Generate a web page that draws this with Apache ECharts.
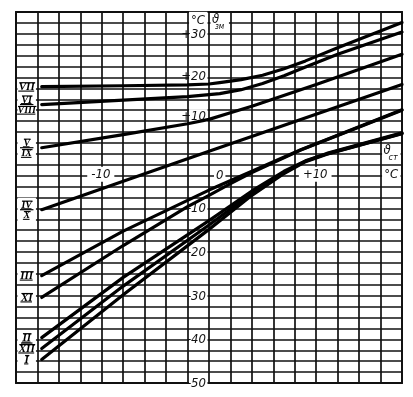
<!DOCTYPE html>
<html><head><meta charset="utf-8">
<script src="https://cdn.jsdelivr.net/npm/echarts@6/dist/echarts.min.js"></script>
<style>html,body{margin:0;padding:0;background:#fff}#c{width:413px;height:397px}</style>
</head><body><div id="c"></div>
<script>
// axis ranges
const X_MIN = -18, X_MAX = 18, X_STEP = 2;
const Y_MIN = -50, Y_MAX = 35, Y_STEP = 2.5;

// tick labels
const yTickValues = [30, 20, 10, -10, -20, -30, -40, -50];
const yTickLabels = ['+30', '+20', '+10', '-10', '-20', '-30', '-40', '-50'];
const xTickValues = [-10, 0, 10];
const xTickLabels = ['-10', '0', '+10'];

// curves (x = ϑст, y = ϑзм)
const xVII = [-15.6, -8, -2, 0, 1, 3, 5, 7, 9, 12, 18];
const yVII = [17.9, 18.1, 18.3, 18.5, 18.8, 19.5, 20.5, 22.0, 23.8, 26.8, 32.6];
const xVI_VIII = [-15.6, -8, -2, 1, 3, 5, 7, 9, 12, 18];
const yVI_VIII = [13.8, 14.8, 15.6, 16.3, 17.2, 18.6, 20.4, 22.4, 25.3, 30.4];
const xV_IX = [-15.6, -8, -2, 0, 2, 4, 10, 18];
const yV_IX = [3.9, 6.9, 9.4, 10.4, 11.9, 13.4, 18.4, 25.3];
const xIV_X = [-15.6, 0, 18];
const yIV_X = [-10.3, 3.1, 18.4];
const xIII = [-15.6, -8, 0, 4, 8.5, 18];
const yIII = [-25.4, -15.2, -5.8, -1.5, 3.4, 12.6];
const xXI = [-15.6, -8, -2, 0, 2, 4, 8.5, 18];
const yXI = [-30.4, -18.5, -9.6, -7.0, -4.3, -1.8, 3.3, 12.5];
const xII = [-15.6, -8, 0, 4, 7, 9, 11, 18];
const yII = [-39.6, -25.8, -12.8, -6.0, -1.5, 0.9, 2.6, 7.3];
const xXII = [-15.6, -8, 0, 4, 7, 9, 11, 18];
const yXII = [-42.1, -27.8, -13.8, -6.5, -1.7, 0.8, 2.5, 7.2];
const xI = [-15.6, -8, 0, 4, 7, 9, 11, 18];
const yI = [-44.6, -29.8, -14.8, -7.0, -2.0, 0.7, 2.4, 7.1];

const curveNames = ['VII', 'VI|VIII', 'V|IX', 'IV|X', 'III', 'XI', 'II', 'XII', 'I'];
const curveX = [xVII, xVI_VIII, xV_IX, xIV_X, xIII, xXI, xII, xXII, xI];
const curveY = [yVII, yVI_VIII, yV_IX, yIV_X, yIII, yXI, yII, yXII, yI];
const fractionPairs = [['II', 'XII']];

const INK = '#111';
const NUM_FONT = "'DejaVu Sans Condensed','Liberation Sans Narrow',sans-serif";
const ROMAN_FONT = "'Liberation Serif','DejaVu Serif',serif";

const chart = echarts.init(document.getElementById('c'), null, {renderer: 'canvas'});

const series = curveNames.map((n, i) => ({
  name: n, type: 'line', zlevel: 1, z: 3,
  data: curveX[i].map((x, k) => [x, curveY[i][k]]),
  showSymbol: false, smooth: false,
  lineStyle: {color: '#000', width: 3.2, cap: 'round', join: 'round'},
  silent: true, animation: false
}));

chart.setOption({
  animation: false,
  grid: {left: 16, right: 11, top: 12, bottom: 14, show: true, borderColor: INK, borderWidth: 1.9, backgroundColor: '#fff'},
  xAxis: {type: 'value', min: X_MIN, max: X_MAX, interval: X_STEP,
    axisLine: {show: false}, axisTick: {show: false}, axisLabel: {show: false},
    splitLine: {show: true, lineStyle: {color: INK, width: 1.7}}},
  yAxis: {type: 'value', min: Y_MIN, max: Y_MAX, interval: Y_STEP,
    axisLine: {show: false}, axisTick: {show: false}, axisLabel: {show: false},
    splitLine: {show: true, lineStyle: {color: INK, width: 1.7}}},
  series: series
});

function px(x, y) { return chart.convertToPixel({gridIndex: 0}, [x, y]); }
function textWidth(t, font) {
  return new echarts.graphic.Text({style: {text: t, font: font}}).getBoundingRect().width;
}

const g = [];
const colW = px(X_MIN + X_STEP, 0)[0] - px(X_MIN, 0)[0];
const rowH = px(0, 0)[1] - px(0, Y_STEP)[1];

// y-axis labels (left of x=0 line)
yTickValues.forEach((v, i) => {
  const p = px(0, v);
  const yc = p[1] - (v === 10 ? 5 : (v === 20 ? 1 : 0));
  let top = yc - 7, h = 14;
  if (i === 0) { top = yc - 22; h = 29; }
  g.push({type: 'rect', z: 1, shape: {x: p[0] - colW + 1.5, y: top, width: colW - 3, height: h}, style: {fill: '#fff'}});
  g.push({type: 'text', z: 2, x: p[0] - 3, y: yc + 0.5, style: {text: yTickLabels[i], align: 'right', verticalAlign: 'middle',
    font: 'italic 13px ' + NUM_FONT, fill: INK}});
});
// °C above +30
{
  const p = px(0, yTickValues[0]);
  g.push({type: 'text', z: 2, x: p[0] - 4, y: p[1] - 13, style: {text: '°C', align: 'right', verticalAlign: 'middle', font: 'italic 13px ' + NUM_FONT, fill: INK}});
}
// ϑзм at top right of y-axis
{
  const p = px(0, Y_MAX);
  g.push({type: 'rect', z: 1, shape: {x: p[0] + 1.5, y: p[1] + 1.5, width: colW - 3, height: rowH * 1.6}, style: {fill: '#fff'}});
  g.push({type: 'text', z: 2, x: p[0] + 3, y: p[1] + 1, style: {text: 'ϑ', align: 'left', verticalAlign: 'top', font: 'italic 13px ' + NUM_FONT, fill: INK}});
  g.push({type: 'text', z: 2, x: p[0] + 6, y: p[1] + 11, style: {text: 'зм', align: 'left', verticalAlign: 'top', font: 'italic 8px ' + NUM_FONT, fill: INK}});
}
// x-axis labels below y=0 line
xTickValues.forEach((v, i) => {
  const p = px(v, 0);
  if (v === 0) {
    g.push({type: 'text', z: 2, x: p[0] + 5, y: p[1] + 3, style: {text: xTickLabels[i], align: 'left', verticalAlign: 'top',
      font: 'italic 13px ' + NUM_FONT, fill: INK, backgroundColor: '#fff', padding: [1, 2]}});
  } else {
    g.push({type: 'text', z: 2, x: p[0] - 1, y: p[1] + 2, style: {text: xTickLabels[i], align: 'center', verticalAlign: 'top',
      font: 'italic 13px ' + NUM_FONT, fill: INK, backgroundColor: '#fff', padding: [1, 4]}});
  }
});
// ϑст °C at right end of x-axis
{
  const p = px(X_MAX, 0);
  g.push({type: 'rect', z: 1, shape: {x: p[0] - colW + 1.5, y: p[1] - 2 * rowH + 1.5, width: colW - 3, height: 2 * rowH - 3}, style: {fill: '#fff'}});
  g.push({type: 'rect', z: 1, shape: {x: p[0] - colW + 1.5, y: p[1] + 1.5, width: colW - 3, height: rowH + 3}, style: {fill: '#fff'}});
  g.push({type: 'text', z: 2, x: p[0] - colW + 3, y: p[1] - 21, style: {text: 'ϑ', align: 'left', verticalAlign: 'top', font: 'italic 13px ' + NUM_FONT, fill: INK}});
  g.push({type: 'text', z: 2, x: p[0] - colW + 8, y: p[1] - 12, style: {text: 'ст', align: 'left', verticalAlign: 'top', font: 'italic 9px ' + NUM_FONT, fill: INK}});
  g.push({type: 'text', z: 2, x: p[0] - colW / 2, y: p[1] + 3, style: {text: '°C', align: 'center', verticalAlign: 'top', font: 'italic 13px ' + NUM_FONT, fill: INK}});
}
// roman-numeral curve labels in the first column
const colLeft = px(X_MIN, 0)[0];
const cx = colLeft + colW / 2;
const startY = {};
function roman(t, x, yMid, size) {
  const font = 'italic bold ' + size + 'px ' + ROMAN_FONT;
  const w = textWidth(t, font);
  const hh = size * 0.36;
  g.push({type: 'text', z: 2, x: x, y: yMid + 0.5, style: {text: t, align: 'center', verticalAlign: 'middle', font: font, fill: '#000'}});
  g.push({type: 'line', z: 2, shape: {x1: x - w / 2 + 0.5, y1: yMid - hh, x2: x + w / 2 + 0.5, y2: yMid - hh}, style: {stroke: '#000', lineWidth: 1.1}});
  g.push({type: 'line', z: 2, shape: {x1: x - w / 2 - 0.5, y1: yMid + hh + 0.5, x2: x + w / 2 - 0.5, y2: yMid + hh + 0.5}, style: {stroke: '#000', lineWidth: 1.1}});
}
curveNames.forEach((n, i) => {
  const p = px(X_MIN + X_STEP / 2, curveY[i][0]);
  const parts = n.split('|');
  startY[n] = p[1];
  if (parts.length === 2) {
    g.push({type: 'rect', z: 1, shape: {x: colLeft + 1.5, y: p[1] - 12, width: colW - 3, height: 24}, style: {fill: '#fff'}});
    roman(parts[0], cx, p[1] - 5, 10);
    g.push({type: 'line', z: 2, shape: {x1: colLeft + 4, y1: p[1], x2: colLeft + colW - 4, y2: p[1]}, style: {stroke: '#000', lineWidth: 1.2}});
    roman(parts[1], cx, p[1] + 5.5, 10);
  } else {
    g.push({type: 'rect', z: 1, shape: {x: colLeft + 1.5, y: p[1] - 7, width: colW - 3, height: 14}, style: {fill: '#fff'}});
    roman(parts[0], cx, p[1], 11);
  }
});
fractionPairs.forEach(([a, b]) => {
  const y = (startY[a] + startY[b]) / 2;
  g.push({type: 'line', z: 2, shape: {x1: colLeft + 5, y1: y, x2: colLeft + colW - 5, y2: y}, style: {stroke: '#000', lineWidth: 1.2}});
});

chart.setOption({graphic: g});
</script></body></html>
